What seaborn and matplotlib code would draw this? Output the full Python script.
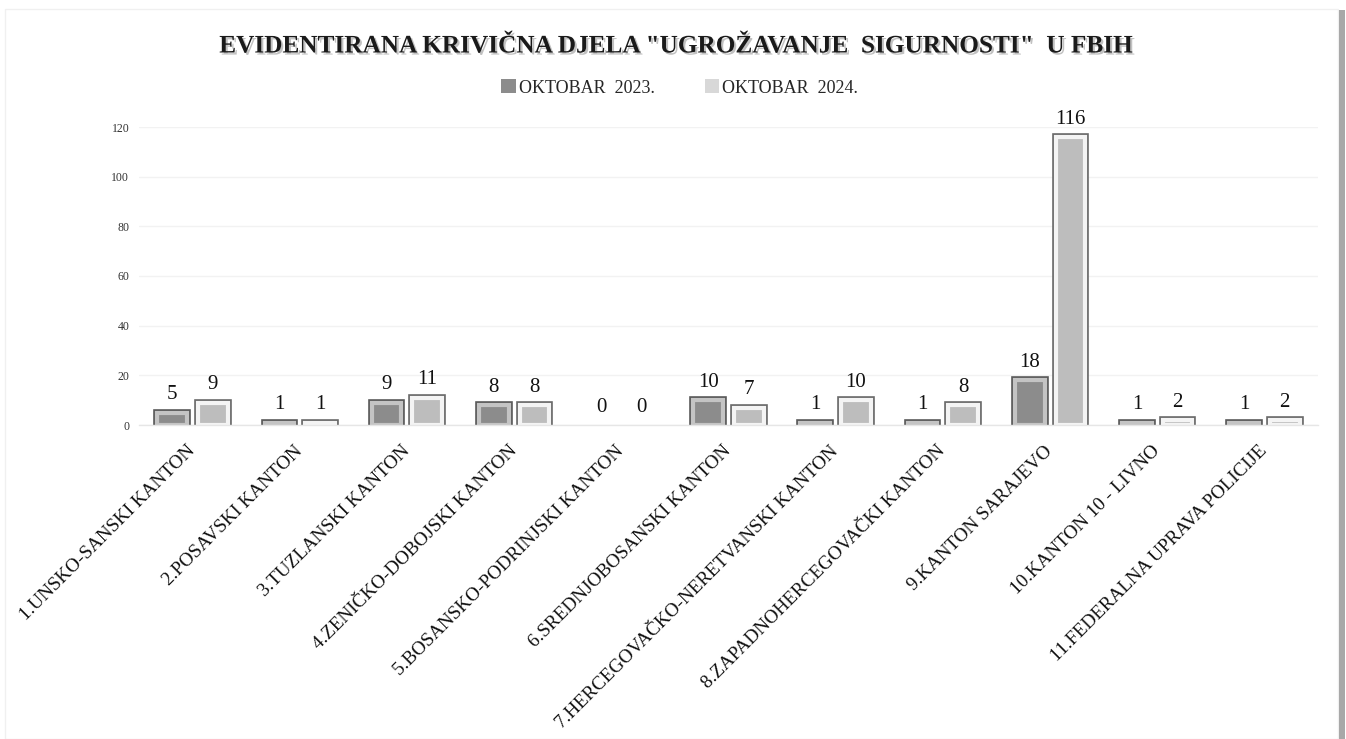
import matplotlib
matplotlib.use("Agg")
import matplotlib.pyplot as plt
import matplotlib.patheffects as pe
from matplotlib.patches import Rectangle, Patch
import seaborn as sns
import pandas as pd

categories = [
    "1.UNSKO-SANSKI KANTON", "2.POSAVSKI KANTON", "3.TUZLANSKI KANTON",
    "4.ZENIČKO-DOBOJSKI KANTON", "5.BOSANSKO-PODRINJSKI KANTON",
    "6.SREDNJOBOSANSKI KANTON", "7.HERCEGOVAČKO-NERETVANSKI KANTON",
    "8.ZAPADNOHERCEGOVAČKI KANTON", "9.KANTON SARAJEVO",
    "10.KANTON 10 - LIVNO", "11.FEDERALNA UPRAVA POLICIJE",
]
series_names = ["OKTOBAR  2023.", "OKTOBAR  2024."]
values_2023 = [5, 1, 9, 8, 0, 10, 1, 1, 18, 1, 1]
values_2024 = [9, 1, 11, 8, 0, 7, 10, 8, 116, 2, 2]
y_ticks = [0, 20, 40, 60, 80, 100, 120]
title = 'EVIDENTIRANA KRIVIČNA DJELA "UGROŽAVANJE  SIGURNOSTI"  U FBIH'

df = pd.DataFrame({
    "kanton": categories * 2,
    "period": [series_names[0]] * len(categories) + [series_names[1]] * len(categories),
    "broj": values_2023 + values_2024,
})

sns.set_theme(style="white")
plt.rcParams["font.family"] = ["Liberation Serif", "DejaVu Serif"]

fig = plt.figure(figsize=(13.46, 7.39), dpi=100)
fig.patch.set_facecolor("white")
ax = fig.add_axes([139 / 1346, 1 - 425 / 739, (1318 - 139) / 1346, 298 / 739])

fills = ["#8c8c8c", "#bdbdbd"]
rings = ["#c4c4c4", "#f4f4f4"]
edges = ["#5a5a5a", "#6a6a6a"]

sns.barplot(data=df, x="kanton", y="broj", hue="period", order=categories,
            hue_order=series_names, palette=fills, width=0.76, gap=0.27,
            ax=ax, legend=False, saturation=1)

for i, cont in enumerate(ax.containers):
    for p in cont.patches:
        if p.get_height() == 0:
            p.set_visible(False)
            continue
        p.set_edgecolor(rings[i])
        p.set_linewidth(3)
        p.set_path_effects([pe.Stroke(linewidth=5.5, foreground=edges[i]), pe.Normal()])
    ax.bar_label(cont, labels=[str(int(v)) for v in cont.datavalues], padding=6,
                 fontsize=15, color="#111111")

ax.set_ylim(0, 120)
ax.set_yticks(y_ticks)
ax.set_yticklabels([str(t) for t in y_ticks], fontsize=8.5, color="#333333")
ax.tick_params(axis="y", length=0, pad=7)
ax.set_xlim(-0.5, len(categories) - 0.5)
ax.set_xticks(range(len(categories)))
ax.set_xticklabels(categories, rotation=45, ha="right", va="center",
                   rotation_mode="anchor", fontsize=13.8, color="#111111")
ax.tick_params(axis="x", length=0, pad=17)
ax.set_xlabel("")
ax.set_ylabel("")
ax.grid(axis="y", color="#f2f2f2", linewidth=1)
ax.set_axisbelow(True)
for s in ["top", "right", "left"]:
    ax.spines[s].set_visible(False)
ax.spines["bottom"].set_color("#e6e6e6")
ax.spines["bottom"].set_linewidth(1)

fig.text(0.502, 1 - 46 / 739, title, ha="center", va="center", fontsize=18.2,
         fontweight="bold", color="#1a1a1a",
         path_effects=[pe.withSimplePatchShadow(offset=(1.5, -1.5), shadow_rgbFace="#999999", alpha=0.6)])

handles = [Patch(facecolor=fills[0], edgecolor="none"), Patch(facecolor="#d8d8d8", edgecolor="none")]
fig.legend(handles, series_names, loc="center", bbox_to_anchor=(0.505, 1 - 88 / 739),
           ncol=2, frameon=False, fontsize=13, handlelength=0.8, handleheight=0.8,
           handletextpad=0.15, columnspacing=2.8)

fig.patches.append(Rectangle((5 / 1346, 0), (1338 - 5) / 1346, 1 - 9 / 739,
                             transform=fig.transFigure, fill=False,
                             edgecolor="#f0f0f0", linewidth=1))
fig.patches.append(Rectangle((1339 / 1346, 0), 6 / 1346, 1 - 10 / 739,
                             transform=fig.transFigure, facecolor="#a8a8a8",
                             edgecolor="none"))

fig.savefig("out.png", dpi=100, facecolor="white")
